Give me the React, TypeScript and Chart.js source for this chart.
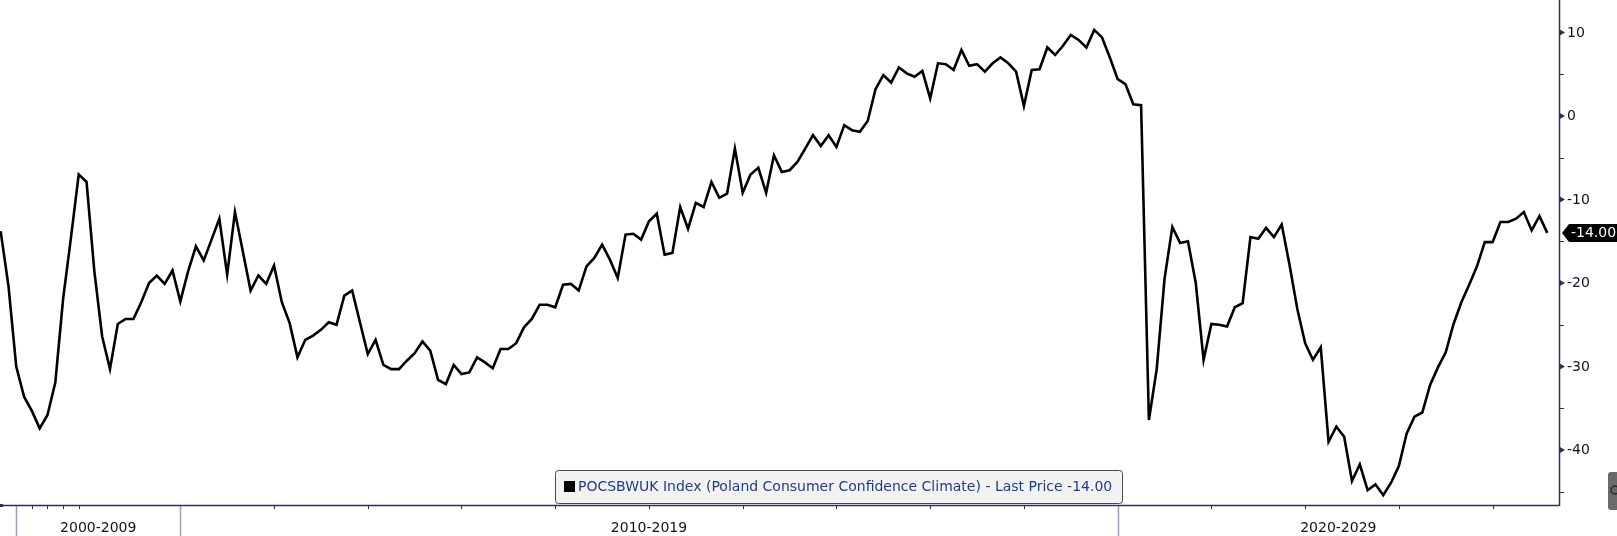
import React, { useEffect, useRef } from "react";
import { Chart, registerables } from "chart.js";

Chart.register(...registerables);

const FONT = "'DejaVu Sans', Verdana, sans-serif";

// Poland Consumer Confidence Climate (POCSBWUK), monthly, Feb 2008 – Aug 2024
const firstYear = 2008;
const firstMonth = 2;
const v2008 = [-13.8, -20.3, -30.0, -33.6, -35.3, -37.4, -35.8, -31.9, -21.9, -14.6, -7.0];
const v2009 = [-7.9, -18.6, -26.4, -30.3, -24.9, -24.3, -24.3, -22.3, -20.0, -19.1, -20.1, -18.5];
const v2010 = [-22.2, -18.6, -15.6, -17.3, -14.8, -12.3, -19.0, -11.5, -16.2, -20.9, -19.1, -20.1];
const v2011 = [-17.9, -22.3, -24.8, -28.9, -26.8, -26.3, -25.6, -24.7, -25.0, -21.5, -20.9, -24.7];
const v2012 = [-28.5, -26.8, -29.8, -30.3, -30.3, -29.3, -28.4, -27.0, -28.1, -31.6, -32.1, -29.8];
const v2013 = [-30.9, -30.7, -28.9, -29.5, -30.2, -27.9, -27.9, -27.2, -25.3, -24.3, -22.6, -22.6];
const v2014 = [-22.9, -20.2, -20.1, -20.9, -18.0, -17.0, -15.4, -17.2, -19.4, -14.2, -14.1, -14.8];
const v2015 = [-12.6, -11.7, -16.6, -16.4, -10.9, -13.5, -10.4, -10.9, -7.9, -9.8, -9.3, -3.9];
const v2016 = [-9.2, -7.0, -6.2, -9.2, -4.7, -6.7, -6.5, -5.5, -3.9, -2.3, -3.6, -2.3];
const v2017 = [-3.7, -1.1, -1.7, -1.9, -0.6, 3.2, 4.9, 4.0, 5.8, 5.1, 4.7, 5.4];
const v2018 = [2.1, 6.3, 6.2, 5.5, 7.9, 6.0, 6.2, 5.3, 6.3, 7.0, 6.3, 5.3];
const v2019 = [1.2, 5.5, 5.6, 8.2, 7.3, 8.4, 9.7, 9.1, 8.2, 10.3, 9.4, 7.0];
const v2020 = [4.4, 3.8, 1.4, 1.3, -36.4, -30.3, -19.5, -13.3, -15.2, -15.0, -20.0, -29.2];
const v2021 = [-24.9, -25.0, -25.2, -22.9, -22.4, -14.5, -14.7, -13.4, -14.5, -13.0, -17.8, -23.1];
const v2022 = [-27.2, -29.2, -27.7, -39.0, -37.2, -38.4, -43.7, -41.7, -44.8, -44.1, -45.4, -43.9];
const v2023 = [-41.9, -38.0, -36.0, -35.5, -32.2, -30.1, -28.3, -24.9, -22.3, -20.2, -18.0, -15.1];
const v2024 = [-15.1, -12.7, -12.7, -12.3, -11.5, -13.7, -12.0, -14.0];
const yearValues = [v2008, v2009, v2010, v2011, v2012, v2013, v2014, v2015, v2016, v2017, v2018, v2019, v2020, v2021, v2022, v2023, v2024];

// axis ranges (x in months relative to Jan 2010)
const xMinMonths = -23.08;
const xMaxMonths = 176.5;
const yMin = -46.57;
const yMax = 13.88;
const yMajorTicks = [10, 0, -10, -20, -30, -40];
const yMinorTicks = [5, -5, -15, -25, -35, -45];
const xMinorTicks = [-19, -17, -15, -13, 12, 24, 36, 48, 60, 72, 84, 96, 108, 132, 144, 156, 168];
const decadeStarts = [-21, 0, 120];
const decadeLabels = ["2000-2009", "2010-2019", "2020-2029"];
const legendLabel = "POCSBWUK Index (Poland Consumer Confidence Climate) - Last Price -14.00";
const lastPriceLabel = "-14.00";

const AXIS_COLOR = "#2b3150";

function buildPoints() {
  const pts: { x: number; y: number }[] = [];
  yearValues.forEach((arr, k) => {
    const year = firstYear + k;
    const m0 = k === 0 ? firstMonth : 1;
    arr.forEach((v, j) => pts.push({ x: (year - 2010) * 12 + (m0 - 1 + j), y: v }));
  });
  return pts;
}

const decorPlugin = {
  id: "decor",
  beforeDraw(chart: any) {
    const { ctx, width, height } = chart;
    ctx.save();
    ctx.fillStyle = "#ffffff";
    ctx.fillRect(0, 0, width, height);
    ctx.restore();
  },
  afterDraw(chart: any) {
    const { ctx, chartArea, scales } = chart;
    const xs = scales.x;
    const ys = scales.y;
    const H = chart.height;
    const W = chart.width;
    const axisX = chartArea.right;
    const axisY = chartArea.bottom;
    ctx.save();

    // decade separators
    ctx.strokeStyle = "#9aa0b6";
    ctx.lineWidth = 1.5;
    decadeStarts.forEach((m) => {
      const px = Math.round(xs.getPixelForValue(m)) + 0.5;
      ctx.beginPath();
      ctx.moveTo(px, axisY);
      ctx.lineTo(px, H);
      ctx.stroke();
    });

    // x-axis line
    ctx.strokeStyle = AXIS_COLOR;
    ctx.lineWidth = 1.5;
    ctx.beginPath();
    ctx.moveTo(chartArea.left, axisY + 0.5);
    ctx.lineTo(axisX, axisY + 0.5);
    ctx.stroke();
    // small x ticks
    ctx.lineWidth = 1;
    xMinorTicks.forEach((m) => {
      const px = Math.round(xs.getPixelForValue(m)) + 0.5;
      ctx.beginPath();
      ctx.moveTo(px, axisY);
      ctx.lineTo(px, axisY + 4);
      ctx.stroke();
    });
    ctx.fillStyle = AXIS_COLOR;
    ctx.fillRect(chartArea.left, axisY - 1, 3, 3);

    // y-axis line
    ctx.lineWidth = 1.5;
    ctx.beginPath();
    ctx.moveTo(axisX + 0.5, 0);
    ctx.lineTo(axisX + 0.5, axisY + 1);
    ctx.stroke();
    // y ticks
    yMajorTicks.forEach((v) => {
      const py = ys.getPixelForValue(v);
      ctx.beginPath();
      ctx.moveTo(axisX, py - 3.5);
      ctx.lineTo(axisX + 6, py);
      ctx.lineTo(axisX, py + 3.5);
      ctx.closePath();
      ctx.fill();
    });
    ctx.lineWidth = 1;
    yMinorTicks.forEach((v) => {
      const py = Math.round(ys.getPixelForValue(v)) + 0.5;
      ctx.beginPath();
      ctx.moveTo(axisX, py);
      ctx.lineTo(axisX + 5, py);
      ctx.stroke();
    });

    ctx.font = `14px ${FONT}`;
    ctx.textBaseline = "middle";

    // y labels
    ctx.fillStyle = "#0f1226";
    ctx.textAlign = "left";
    yMajorTicks.forEach((v) => {
      ctx.fillText(String(v), axisX + 8, ys.getPixelForValue(v) + 0.5);
    });

    // decade labels
    ctx.fillStyle = "#141414";
    ctx.textAlign = "center";
    decadeStarts.forEach((m, i) => {
      const a = xs.getPixelForValue(m);
      const b = i + 1 < decadeStarts.length ? xs.getPixelForValue(decadeStarts[i + 1]) : axisX;
      ctx.fillText(decadeLabels[i], (a + b) / 2, axisY + 23);
    });

    // legend box
    const lx = 555, ly = 470, lw = 567, lh = 33;
    ctx.beginPath();
    ctx.roundRect(lx + 0.5, ly + 0.5, lw, lh, 3);
    ctx.fillStyle = "#f2f2f2";
    ctx.fill();
    ctx.strokeStyle = "#4a4a4a";
    ctx.lineWidth = 1;
    ctx.stroke();
    ctx.fillStyle = "#000000";
    ctx.fillRect(lx + 9, ly + 11, 11, 11);
    ctx.fillStyle = "#1f3d85";
    ctx.textAlign = "left";
    ctx.fillText(legendLabel, lx + 23, ly + 17);

    // last price tag
    const data = chart.data.datasets[0].data;
    const last = data[data.length - 1].y;
    const py = ys.getPixelForValue(last);
    ctx.fillStyle = "#000000";
    ctx.beginPath();
    ctx.moveTo(axisX + 3, py);
    ctx.lineTo(axisX + 10, py - 9);
    ctx.lineTo(W, py - 9);
    ctx.lineTo(W, py + 9);
    ctx.lineTo(axisX + 10, py + 9);
    ctx.closePath();
    ctx.fill();
    ctx.fillStyle = "#ffffff";
    ctx.textAlign = "left";
    ctx.fillText(lastPriceLabel, axisX + 12, py + 0.5);

    // corner button
    ctx.fillStyle = "#6a6a6a";
    ctx.beginPath();
    ctx.roundRect(W - 9, axisY - 33, 20, 38, 3);
    ctx.fill();
    ctx.strokeStyle = "#2a2a2a";
    ctx.lineWidth = 1.5;
    ctx.beginPath();
    ctx.arc(W - 2, axisY - 15, 4, 0, Math.PI * 2);
    ctx.stroke();

    ctx.restore();
  },
};

export default function App() {
  const canvasRef = useRef<HTMLCanvasElement | null>(null);

  useEffect(() => {
    if (!canvasRef.current) return;
    const chart = new Chart(canvasRef.current, {
      type: "line",
      data: {
        datasets: [
          {
            data: buildPoints(),
            borderColor: "#000000",
            borderWidth: 2.6,
            pointRadius: 0,
            tension: 0,
            fill: false,
          },
        ],
      },
      options: {
        animation: false,
        responsive: false,
        devicePixelRatio: 1,
        layout: { padding: 0 },
        plugins: { legend: { display: false }, tooltip: { enabled: false } },
        scales: {
          x: {
            type: "linear",
            position: "bottom",
            min: xMinMonths,
            max: xMaxMonths,
            grid: { display: false, drawTicks: false },
            border: { display: false },
            ticks: { display: false },
            afterFit: (s: any) => {
              s.height = 31;
            },
          },
          y: {
            type: "linear",
            position: "right",
            min: yMin,
            max: yMax,
            grid: { display: false, drawTicks: false },
            border: { display: false },
            ticks: { display: false },
            afterBuildTicks: (s: any) => {
              s.ticks = yMajorTicks.map((v) => ({ value: v }));
            },
            afterFit: (s: any) => {
              s.width = 58;
            },
          },
        },
      },
      plugins: [decorPlugin],
    } as any);
    return () => chart.destroy();
  }, []);

  return (
    <div style={{ position: "fixed", left: 0, top: 0, width: 1617, height: 536, background: "#fff" }}>
      <canvas ref={canvasRef} width={1617} height={536} style={{ width: 1617, height: 536, display: "block" }} />
    </div>
  );
}
